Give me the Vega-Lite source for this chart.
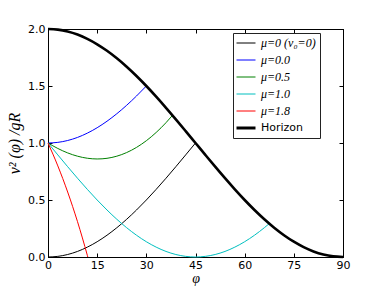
{
  "$schema": "https://vega.github.io/schema/vega-lite/v6.json",
  "width": 295,
  "height": 228,
  "autosize": {"type": "none"},
  "padding": {"left": 48, "top": 29, "right": 39, "bottom": 29},
  "background": "white",
  "config": {
    "view": {"stroke": "black", "strokeWidth": 1},
    "axis": {
      "grid": false,
      "domainColor": "black",
      "tickColor": "black",
      "tickSize": -4,
      "labelFont": "DejaVu Sans",
      "labelFontSize": 11,
      "labelColor": "black",
      "labelFlush": false,
      "labelOverlap": false,
      "titleFont": "Liberation Serif",
      "titleFontStyle": "italic",
      "titleFontWeight": "normal",
      "titleFontSize": 16,
      "titleColor": "black"
    }
  },
  "data": {"values": [
    {"s": "μ=0 (v₀=0)", "x": 0, "y": 0},
    {"s": "μ=0 (v₀=0)", "x": 3, "y": 0.0055},
    {"s": "μ=0 (v₀=0)", "x": 6, "y": 0.0219},
    {"s": "μ=0 (v₀=0)", "x": 9, "y": 0.0489},
    {"s": "μ=0 (v₀=0)", "x": 12, "y": 0.0865},
    {"s": "μ=0 (v₀=0)", "x": 15, "y": 0.1340},
    {"s": "μ=0 (v₀=0)", "x": 18, "y": 0.1910},
    {"s": "μ=0 (v₀=0)", "x": 21, "y": 0.2569},
    {"s": "μ=0 (v₀=0)", "x": 24, "y": 0.3309},
    {"s": "μ=0 (v₀=0)", "x": 27, "y": 0.4122},
    {"s": "μ=0 (v₀=0)", "x": 30, "y": 0.5},
    {"s": "μ=0 (v₀=0)", "x": 33, "y": 0.5933},
    {"s": "μ=0 (v₀=0)", "x": 36, "y": 0.6910},
    {"s": "μ=0 (v₀=0)", "x": 39, "y": 0.7921},
    {"s": "μ=0 (v₀=0)", "x": 42, "y": 0.8955},
    {"s": "μ=0 (v₀=0)", "x": 45, "y": 1.0},
    {"s": "μ=0.0", "x": 0, "y": 1.0},
    {"s": "μ=0.0", "x": 3, "y": 1.0055},
    {"s": "μ=0.0", "x": 6, "y": 1.0219},
    {"s": "μ=0.0", "x": 9, "y": 1.0489},
    {"s": "μ=0.0", "x": 12, "y": 1.0865},
    {"s": "μ=0.0", "x": 15, "y": 1.1340},
    {"s": "μ=0.0", "x": 18, "y": 1.1910},
    {"s": "μ=0.0", "x": 21, "y": 1.2569},
    {"s": "μ=0.0", "x": 24, "y": 1.3309},
    {"s": "μ=0.0", "x": 27, "y": 1.4122},
    {"s": "μ=0.0", "x": 30, "y": 1.5},
    {"s": "μ=0.5", "x": 0, "y": 1.0},
    {"s": "μ=0.5", "x": 3, "y": 0.9519},
    {"s": "μ=0.5", "x": 6, "y": 0.9130},
    {"s": "μ=0.5", "x": 9, "y": 0.8842},
    {"s": "μ=0.5", "x": 12, "y": 0.8663},
    {"s": "μ=0.5", "x": 15, "y": 0.8599},
    {"s": "μ=0.5", "x": 18, "y": 0.8658},
    {"s": "μ=0.5", "x": 21, "y": 0.8844},
    {"s": "μ=0.5", "x": 24, "y": 0.9162},
    {"s": "μ=0.5", "x": 27, "y": 0.9613},
    {"s": "μ=0.5", "x": 30, "y": 1.0200},
    {"s": "μ=0.5", "x": 33, "y": 1.0924},
    {"s": "μ=0.5", "x": 36, "y": 1.1784},
    {"s": "μ=0.5", "x": 37.98, "y": 1.2425},
    {"s": "μ=1.0", "x": 0, "y": 1.0},
    {"s": "μ=1.0", "x": 3, "y": 0.8955},
    {"s": "μ=1.0", "x": 6, "y": 0.7921},
    {"s": "μ=1.0", "x": 9, "y": 0.6910},
    {"s": "μ=1.0", "x": 12, "y": 0.5933},
    {"s": "μ=1.0", "x": 15, "y": 0.5},
    {"s": "μ=1.0", "x": 18, "y": 0.4122},
    {"s": "μ=1.0", "x": 21, "y": 0.3309},
    {"s": "μ=1.0", "x": 24, "y": 0.2569},
    {"s": "μ=1.0", "x": 27, "y": 0.1910},
    {"s": "μ=1.0", "x": 30, "y": 0.1340},
    {"s": "μ=1.0", "x": 33, "y": 0.0865},
    {"s": "μ=1.0", "x": 36, "y": 0.0489},
    {"s": "μ=1.0", "x": 39, "y": 0.0219},
    {"s": "μ=1.0", "x": 42, "y": 0.0055},
    {"s": "μ=1.0", "x": 45, "y": 0},
    {"s": "μ=1.0", "x": 48, "y": 0.0055},
    {"s": "μ=1.0", "x": 51, "y": 0.0219},
    {"s": "μ=1.0", "x": 54, "y": 0.0489},
    {"s": "μ=1.0", "x": 57, "y": 0.0865},
    {"s": "μ=1.0", "x": 60, "y": 0.1340},
    {"s": "μ=1.0", "x": 63, "y": 0.1910},
    {"s": "μ=1.0", "x": 66, "y": 0.2569},
    {"s": "μ=1.0", "x": 67.5, "y": 0.2929},
    {"s": "μ=1.8", "x": 0, "y": 1.0},
    {"s": "μ=1.8", "x": 1.5, "y": 0.9026},
    {"s": "μ=1.8", "x": 3, "y": 0.7988},
    {"s": "μ=1.8", "x": 4.5, "y": 0.6881},
    {"s": "μ=1.8", "x": 6, "y": 0.5700},
    {"s": "μ=1.8", "x": 7.5, "y": 0.4442},
    {"s": "μ=1.8", "x": 9, "y": 0.3101},
    {"s": "μ=1.8", "x": 10.5, "y": 0.1670},
    {"s": "μ=1.8", "x": 12, "y": 0.0144},
    {"s": "μ=1.8", "x": 12.14, "y": 0},
    {"s": "Horizon", "x": 0, "y": 2.0},
    {"s": "Horizon", "x": 3, "y": 1.9945},
    {"s": "Horizon", "x": 6, "y": 1.9781},
    {"s": "Horizon", "x": 9, "y": 1.9511},
    {"s": "Horizon", "x": 12, "y": 1.9135},
    {"s": "Horizon", "x": 15, "y": 1.8660},
    {"s": "Horizon", "x": 18, "y": 1.8090},
    {"s": "Horizon", "x": 21, "y": 1.7431},
    {"s": "Horizon", "x": 24, "y": 1.6691},
    {"s": "Horizon", "x": 27, "y": 1.5878},
    {"s": "Horizon", "x": 30, "y": 1.5},
    {"s": "Horizon", "x": 33, "y": 1.4067},
    {"s": "Horizon", "x": 36, "y": 1.3090},
    {"s": "Horizon", "x": 39, "y": 1.2079},
    {"s": "Horizon", "x": 42, "y": 1.1045},
    {"s": "Horizon", "x": 45, "y": 1.0},
    {"s": "Horizon", "x": 48, "y": 0.8955},
    {"s": "Horizon", "x": 51, "y": 0.7921},
    {"s": "Horizon", "x": 54, "y": 0.6910},
    {"s": "Horizon", "x": 57, "y": 0.5933},
    {"s": "Horizon", "x": 60, "y": 0.5},
    {"s": "Horizon", "x": 63, "y": 0.4122},
    {"s": "Horizon", "x": 66, "y": 0.3309},
    {"s": "Horizon", "x": 69, "y": 0.2569},
    {"s": "Horizon", "x": 72, "y": 0.1910},
    {"s": "Horizon", "x": 75, "y": 0.1340},
    {"s": "Horizon", "x": 78, "y": 0.0865},
    {"s": "Horizon", "x": 81, "y": 0.0489},
    {"s": "Horizon", "x": 84, "y": 0.0219},
    {"s": "Horizon", "x": 87, "y": 0.0055},
    {"s": "Horizon", "x": 90, "y": 0}
  ]},
  "layer": [
    {
      "transform": [{"filter": "datum.s !== 'Horizon'"}],
      "mark": {"type": "line", "interpolate": "monotone", "strokeWidth": 1},
      "encoding": {
        "x": {
          "field": "x", "type": "quantitative",
          "scale": {"domain": [0, 90], "nice": false, "zero": false},
          "axis": {"values": [0, 15, 30, 45, 60, 75, 90], "title": "φ", "labelPadding": 6, "titlePadding": 1, "titleFontSize": 14}
        },
        "y": {
          "field": "y", "type": "quantitative",
          "scale": {"domain": [0, 2], "nice": false},
          "axis": {"values": [0, 0.5, 1, 1.5, 2], "format": ".1f", "title": "v² (φ) /gR", "labelPadding": 7, "titlePadding": 5}
        },
        "color": {
          "field": "s", "type": "nominal",
          "scale": {
            "domain": ["μ=0 (v₀=0)", "μ=0.0", "μ=0.5", "μ=1.0", "μ=1.8", "Horizon"],
            "range": ["#000000", "#0000ff", "#008000", "#00bfbf", "#ff0000", "#000000"]
          },
          "legend": {
            "title": null,
            "orient": "none",
            "legendX": 185,
            "legendY": 4,
            "padding": 4,
            "rowPadding": 5,
            "symbolOffset": 3,
            "fillColor": "white",
            "strokeColor": "#222222",
            "symbolType": "stroke",
            "symbolSize": 361,
            "symbolStrokeWidth": 1,
            "labelFont": "Liberation Serif",
            "labelFontSize": 12,
            "labelColor": "black",
            "labelOffset": 9,
            "labelLimit": 200,
            "encode": {
              "symbols": {"update": {
                "strokeWidth": {"signal": "datum.label === 'Horizon' ? 3 : 1"},
                "stroke": {"signal": "scale('color', datum.value)"}
              }},
              "labels": {"update": {
                "fontStyle": {"signal": "datum.label === 'Horizon' ? 'normal' : 'italic'"},
                "font": {"signal": "datum.label === 'Horizon' ? 'DejaVu Sans' : 'Liberation Serif'"},
                "fontSize": {"signal": "datum.label === 'Horizon' ? 11 : 12"}
              }}
            }
          }
        }
      }
    },
    {
      "transform": [{"filter": "datum.s === 'Horizon'"}],
      "mark": {"type": "line", "interpolate": "monotone", "strokeWidth": 2.6},
      "encoding": {
        "x": {"field": "x", "type": "quantitative", "axis": {"orient": "top", "values": [0, 15, 30, 45, 60, 75, 90], "labels": false, "title": null}},
        "y": {"field": "y", "type": "quantitative", "axis": {"orient": "right", "values": [0, 0.5, 1, 1.5, 2], "labels": false, "title": null}},
        "color": {"field": "s", "type": "nominal"}
      }
    }
  ],
  "resolve": {"axis": {"x": "independent", "y": "independent"}}
}
